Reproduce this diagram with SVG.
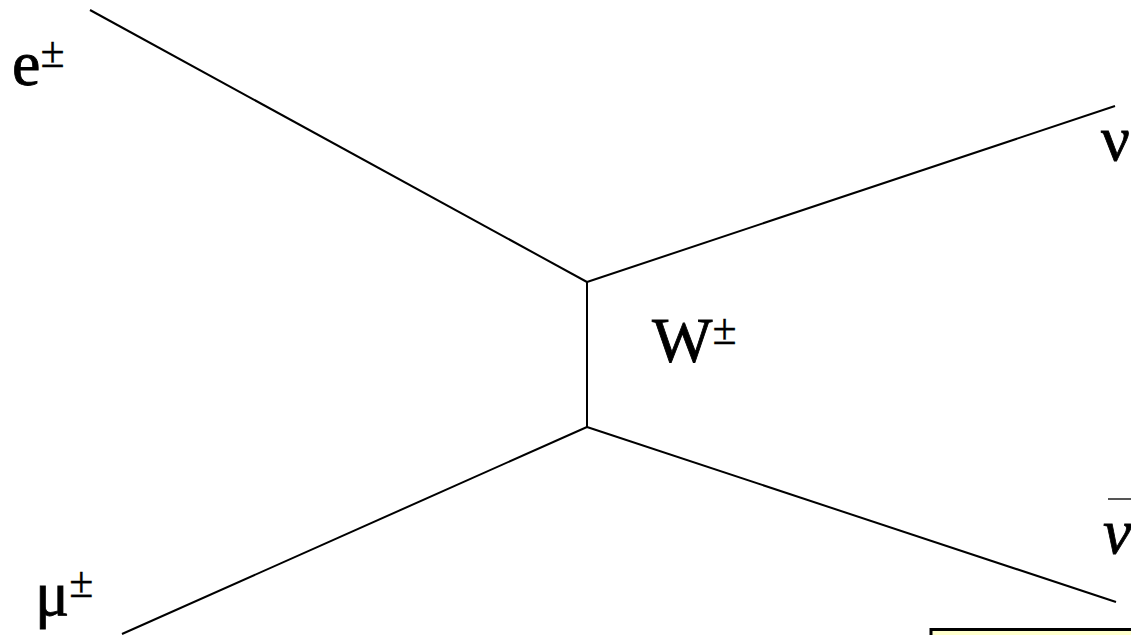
<svg xmlns="http://www.w3.org/2000/svg" width="1131" height="635" viewBox="0 0 1131 635">
<style>
.l{stroke:#000;stroke-width:2;fill:none}
.t{font-family:'Liberation Serif','Times New Roman',serif;font-size:64px;fill:#000;stroke:#000;stroke-width:0.8}
.s{font-size:44px;stroke-width:0.3}
</style>
<rect width="1131" height="635" fill="#fff"/>
<g id="connectors">
<line class="l" x1="90" y1="10" x2="587" y2="282"/>
<line class="l" x1="587" y1="282" x2="1115" y2="106"/>
<line class="l" x1="587" y1="282" x2="587" y2="427"/>
<line class="l" x1="122" y1="634" x2="587" y2="427"/>
<line class="l" x1="587" y1="427" x2="1116" y2="602"/>
</g>
<g id="e"><text class="t" x="12" y="85">e<tspan class="s" dy="-18">±</tspan></text></g>
<g id="mu"><text class="t" x="35" y="615">μ<tspan class="s" dy="-18">±</tspan></text></g>
<g id="W"><text class="t" x="652" y="362">W<tspan class="s" dy="-18">±</tspan></text></g>
<g id="nu"><text class="t" x="1101" y="160">ν</text></g>
<g id="nubar"><line x1="1108" y1="499" x2="1131" y2="499" stroke="#555" stroke-width="2"/><text class="t" x="1103" y="553" font-style="italic">ν</text></g>
<g id="box"><rect x="931" y="629.5" width="260" height="60" fill="#ffffcc" stroke="#000" stroke-width="3"/></g>
</svg>
